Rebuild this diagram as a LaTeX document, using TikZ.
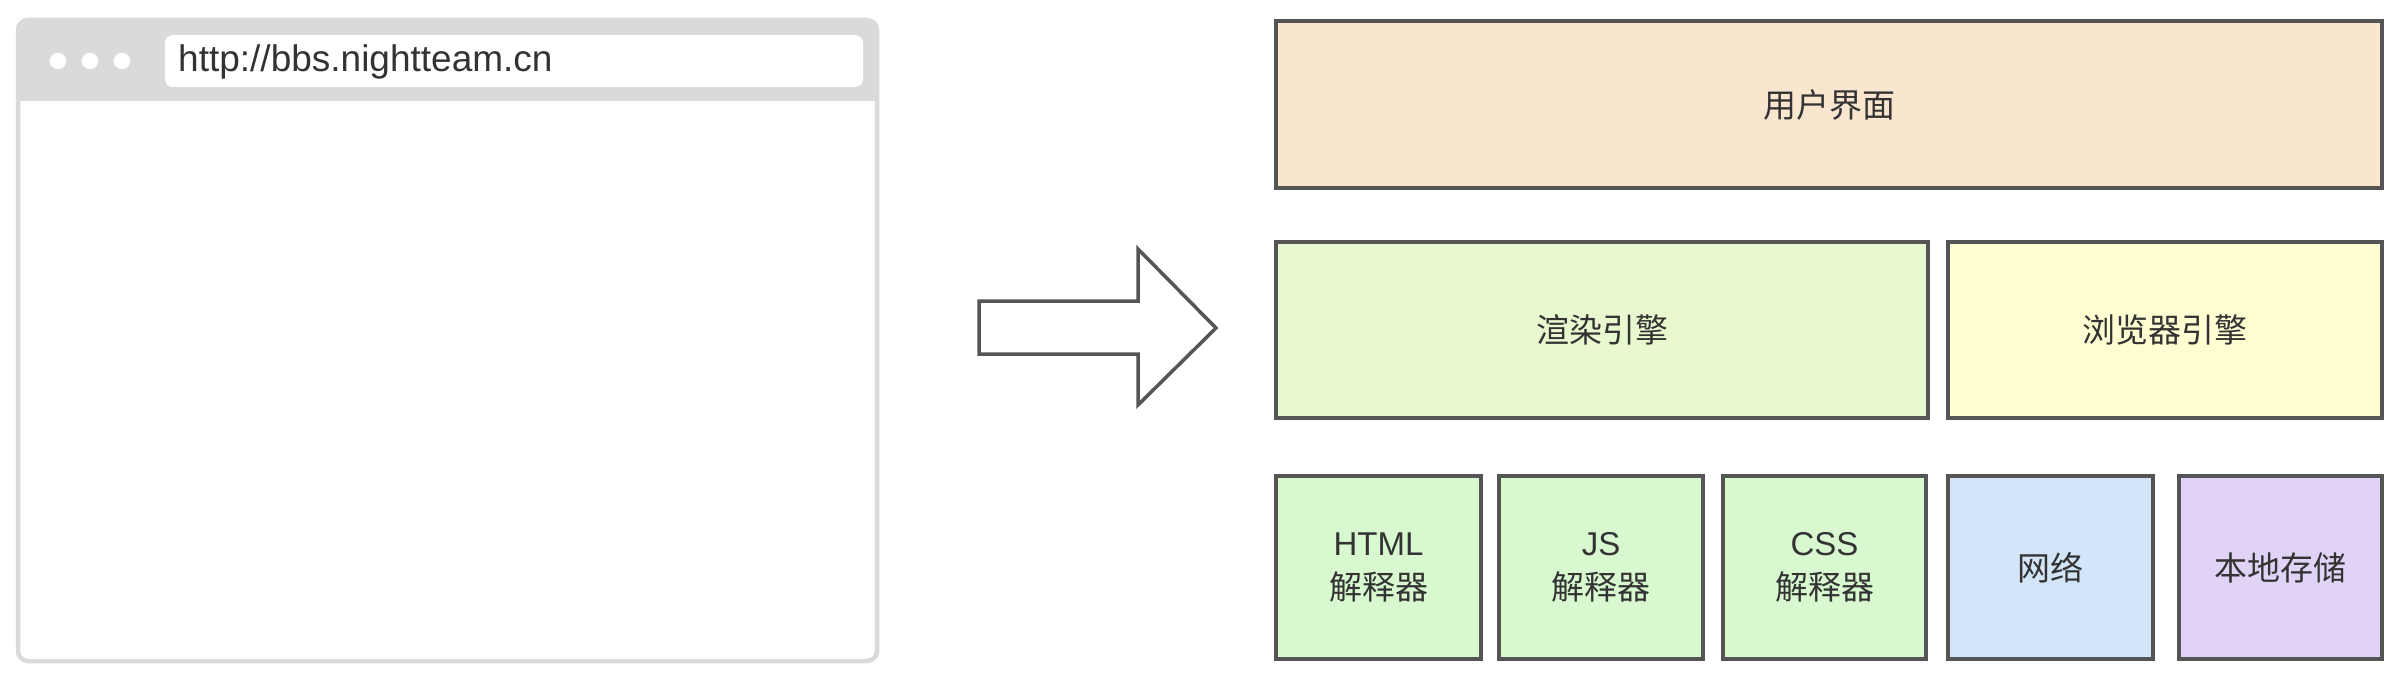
\documentclass[tikz,border=0pt]{standalone}
\usepackage{fontspec}
\setmainfont{Liberation Sans}
\newfontfamily\cjk{Noto Sans CJK SC}
\usetikzlibrary{calc}

\definecolor{linegray}{HTML}{555555}
\definecolor{textgray}{HTML}{333333}
\definecolor{framegray}{HTML}{DADADA}
\definecolor{uicolor}{HTML}{FAE6CF}
\definecolor{rendercolor}{HTML}{E9F9CF}
\definecolor{enginecolor}{HTML}{FFFDD2}
\definecolor{parsecolor}{HTML}{D8F8D0}
\definecolor{netcolor}{HTML}{D3E5F8}
\definecolor{storecolor}{HTML}{E1D3F6}

\begin{document}
\begin{tikzpicture}[x=1pt, y=-1pt,
    layer/.style={draw=linegray, line width=3.5pt, text=textgray, align=center,
        inner sep=0pt, font=\fontsize{33}{44}\selectfont},
    small/.style={layer, minimum height=183pt}]
            \useasboundingbox (0,0) rectangle (2399,682);
            \fill[white] (0,0) rectangle (2399,682);

            % browser window
            \draw[framegray, fill=white, line width=4.5pt, rounded corners=10pt] (18,20) rectangle (877,661);
            \fill[framegray, rounded corners=8pt] (18,20) rectangle (877,101);
            \fill[framegray] (18,70) rectangle (877,101);
            \filldraw[white] (58,61) circle (8pt) (90,61) circle (8pt) (122,61) circle (8pt);
            \fill[white, rounded corners=8pt] (165,35) rectangle (863,87);
            \node[anchor=west, inner sep=0pt, text=textgray, font=\fontsize{37}{42}\selectfont] (url) at (178,62) {http://bbs.nightteam.cn};

            % big arrow
            \draw[linegray, fill=white, line width=3.5pt, line join=miter]
                (979,301) -- (1138,301) -- (1138,249) -- (1216,328) -- (1138,405) -- (1138,354) -- (979,354) -- cycle;

            % layers
            \node[layer, fill=uicolor, minimum width=1106pt, minimum height=167pt] (ui) at (1829,104.5) {\cjk 用户界面};
            \node[layer, fill=rendercolor, minimum width=652pt, minimum height=176pt] (render) at (1602,330) {\cjk 渲染引擎};
            \node[layer, fill=enginecolor, minimum width=434pt, minimum height=176pt] (engine) at (2165,330) {\cjk 浏览器引擎};

            \node[small, fill=parsecolor, minimum width=205pt] (html) at (1378.5,567.5) {HTML\\{\cjk 解释器}};
            \node[small, fill=parsecolor, minimum width=204pt] (js) at (1601,567.5) {JS\\{\cjk 解释器}};
            \node[small, fill=parsecolor, minimum width=203pt] (css) at (1824.5,567.5) {CSS\\{\cjk 解释器}};
            \node[small, fill=netcolor, minimum width=205pt] (net) at (2050.5,567.5) {\cjk 网络};
            \node[small, fill=storecolor, minimum width=203pt] (store) at (2280.5,567.5) {\cjk 本地存储};
        \end{tikzpicture}
\end{document}
